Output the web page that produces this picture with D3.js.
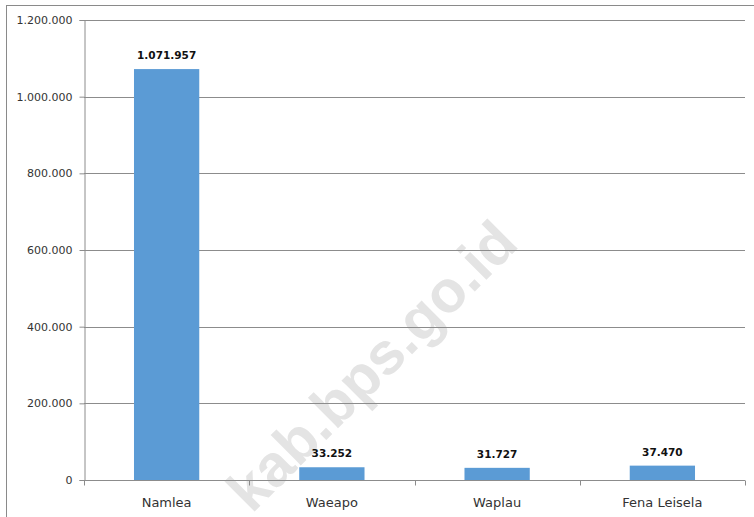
<!DOCTYPE html>
<html>
<head>
<meta charset="utf-8">
<script src="https://cdn.jsdelivr.net/npm/d3@7"></script>
<style>
  html, body { margin: 0; padding: 0; background: #fff; }
  svg { display: block; }
</style>
</head>
<body>
<svg id="chart" width="754" height="517"></svg>
<script>
// Jumlah per kecamatan
const categories = ["Namlea", "Waeapo", "Waplau", "Fena Leisela"];
const values = [1071957, 33252, 31727, 37470];
const yTicks = [0, 200000, 400000, 600000, 800000, 1000000, 1200000];

const svg = d3.select("#chart");
const W = 754, H = 517;
const margin = { left: 84, right: 9, top: 20, bottom: 37 };

// Thousands separator "." as used in Indonesian
const fmt = d3.formatLocale({ decimal: ",", thousands: ".", grouping: [3], currency: ["Rp", ""] }).format(",d");

const x = d3.scaleBand().domain(categories).range([margin.left, W - margin.right]).padding(0);
const y = d3.scaleLinear().domain([0, 1200000]).range([H - margin.bottom, margin.top]);

// Outer chart frame
svg.append("rect")
  .attr("x", 6.5).attr("y", 5.5)
  .attr("width", W + 10).attr("height", H + 10)
  .attr("fill", "#fff").attr("stroke", "#8a8a8a").attr("stroke-width", 1);

// Watermark behind the plot
svg.append("text")
  .attr("transform", "translate(372,366) rotate(-45)")
  .attr("text-anchor", "middle")
  .attr("dominant-baseline", "central")
  .attr("font-family", "Liberation Sans, Arial, sans-serif")
  .attr("font-weight", "bold")
  .attr("font-size", 59)
  .attr("fill", "#e4e4e4")
  .text("kab.bps.go.id");

// Horizontal gridlines
svg.append("g")
  .selectAll("line")
  .data(yTicks.filter(d => d > 0))
  .join("line")
  .attr("x1", margin.left).attr("x2", W - margin.right)
  .attr("y1", d => Math.round(y(d)) + 0.5).attr("y2", d => Math.round(y(d)) + 0.5)
  .attr("stroke", "#8c8c8c").attr("stroke-width", 1);

// Y axis
const yAxis = svg.append("g")
  .attr("transform", `translate(${margin.left + 0.5},0)`)
  .call(d3.axisLeft(y).tickValues(yTicks).tickFormat(fmt).tickSize(5).tickPadding(7));
yAxis.select(".domain").attr("stroke", "#8c8c8c");
yAxis.selectAll(".tick line").attr("stroke", "#8c8c8c");
yAxis.selectAll(".tick text")
  .attr("font-family", "DejaVu Sans, sans-serif")
  .attr("font-size", 11)
  .attr("fill", "#333");

// X axis with tick marks between categories
const xAxisG = svg.append("g")
  .attr("transform", `translate(0,${Math.round(y(0)) + 0.5})`);
xAxisG.append("line")
  .attr("x1", margin.left).attr("x2", W - margin.right)
  .attr("stroke", "#8c8c8c");
const bounds = categories.map(c => x(c)).concat([x.range()[1]]);
xAxisG.selectAll("line.tk")
  .data(bounds)
  .join("line")
  .attr("class", "tk")
  .attr("x1", d => Math.round(d) + 0.5).attr("x2", d => Math.round(d) + 0.5)
  .attr("y1", 0).attr("y2", 5)
  .attr("stroke", "#8c8c8c");
xAxisG.selectAll("text")
  .data(categories)
  .join("text")
  .attr("x", d => x(d) + x.bandwidth() / 2)
  .attr("y", 26)
  .attr("text-anchor", "middle")
  .attr("font-family", "DejaVu Sans, sans-serif")
  .attr("font-size", 13)
  .attr("fill", "#333")
  .text(d => d);

// Bars
const barW = x.bandwidth() * 0.395;
svg.append("g")
  .selectAll("rect")
  .data(categories)
  .join("rect")
  .attr("x", (d) => x(d) + (x.bandwidth() - barW) / 2)
  .attr("y", (d, i) => y(values[i]))
  .attr("width", barW)
  .attr("height", (d, i) => y(0) - y(values[i]))
  .attr("fill", "#5b9bd5");

// Value labels
svg.append("g")
  .selectAll("text")
  .data(categories)
  .join("text")
  .attr("x", d => x(d) + x.bandwidth() / 2)
  .attr("y", (d, i) => y(values[i]) - 10)
  .attr("text-anchor", "middle")
  .attr("font-family", "DejaVu Sans, sans-serif")
  .attr("font-weight", "bold")
  .attr("font-size", 10.5)
  .attr("fill", "#111")
  .text((d, i) => fmt(values[i]));
</script>
</body>
</html>
